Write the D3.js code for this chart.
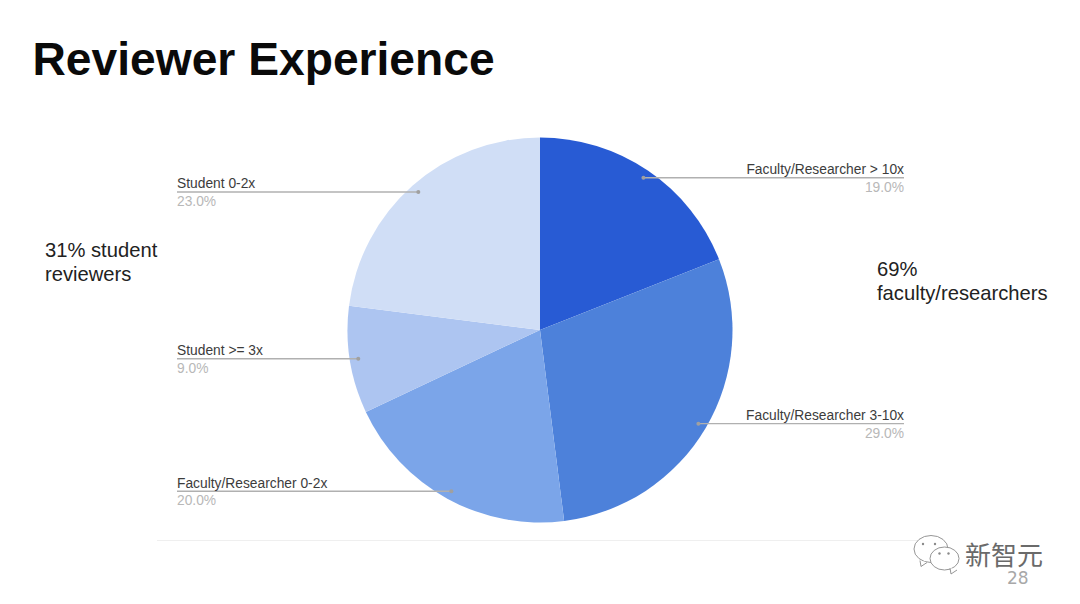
<!DOCTYPE html>
<html>
<head>
<meta charset="utf-8">
<style>
  html, body { margin: 0; padding: 0; background: #fff; }
  svg { display: block; font-family: "Liberation Sans", Arial, sans-serif; }
</style>
<script src="https://cdn.jsdelivr.net/npm/d3@7"></script>
</head>
<body>
<div id="chart"></div>
<script>
// Dados da fatia, no sentido horário a partir do topo
const categories = ['Faculty/Researcher > 10x', 'Faculty/Researcher 3-10x', 'Faculty/Researcher 0-2x', 'Student >= 3x', 'Student 0-2x'];
const values = [19, 29, 20, 9, 23];
const colors = ['#285bd4', '#4d81da', '#7ba5e9', '#adc5f1', '#d0def6'];

const width = 1080;
const height = 604;
const cx = 540;
const cy = 330;
const radius = 192.5;
const dotRadius = 184;
const leftEdge = 177;
const rightEdge = 904;

const svg = d3.select('#chart').append('svg')
  .attr('width', width)
  .attr('height', height);

// Título
svg.append('text')
  .attr('x', 32.5)
  .attr('y', 75)
  .attr('font-size', 46.2)
  .attr('font-weight', 700)
  .attr('fill', '#0a0a0a')
  .text('Reviewer Experience');

// Pizza
const slices = d3.pie().sort(null)(values);
const arc = d3.arc().innerRadius(0).outerRadius(radius);
const dotArc = d3.arc().innerRadius(dotRadius).outerRadius(dotRadius);

const pie = svg.append('g').attr('transform', `translate(${cx},${cy})`);

pie.selectAll('path')
  .data(slices)
  .enter()
  .append('path')
  .attr('d', arc)
  .attr('fill', (d, i) => colors[i]);

// Linhas de chamada e rótulos
const labels = pie.selectAll('.label')
  .data(slices)
  .enter()
  .append('g')
  .attr('class', 'label');

labels.each(function(d, i) {
  const g = d3.select(this);
  const [px, py] = dotArc.centroid(d);
  const isRight = px > 0;
  const edge = (isRight ? rightEdge : leftEdge) - cx;

  g.append('line')
    .attr('x1', px).attr('y1', py)
    .attr('x2', edge).attr('y2', py)
    .attr('stroke', '#b0b0b0')
    .attr('stroke-width', 1.4);

  g.append('circle')
    .attr('cx', px).attr('cy', py)
    .attr('r', 2)
    .attr('fill', '#a0a0a0');

  g.append('text')
    .attr('x', edge).attr('y', py - 3.7)
    .attr('text-anchor', isRight ? 'end' : 'start')
    .attr('font-size', 13.8)
    .attr('fill', '#3c3c3c')
    .text(categories[i]);

  g.append('text')
    .attr('x', edge).attr('y', py + 14)
    .attr('text-anchor', isRight ? 'end' : 'start')
    .attr('font-size', 13.8)
    .attr('fill', '#b8b8b8')
    .text(d3.format('.1f')(values[i]) + '%');
});

// Anotações laterais
const notes = [
  { x: 45, y: 257, lines: ['31% student', 'reviewers'] },
  { x: 877, y: 276, lines: ['69%', 'faculty/researchers'] }
];

notes.forEach(n => {
  n.lines.forEach((t, i) => {
    svg.append('text')
      .attr('x', n.x)
      .attr('y', n.y + i * 24)
      .attr('font-size', 20.2)
      .attr('fill', '#222')
      .text(t);
  });
});

// Linha do rodapé
svg.append('line')
  .attr('x1', 157).attr('y1', 540.5)
  .attr('x2', 925).attr('y2', 540.5)
  .attr('stroke', '#efefef')
  .attr('stroke-width', 1);

// Número do slide
svg.append('text')
  .attr('x', 1007)
  .attr('y', 584)
  .attr('font-size', 17)
  .attr('font-family', '"DejaVu Sans", sans-serif')
  .attr('fill', '#a8a8a8')
  .text('28');

// Marca d'água: balões e nome
const bubble = (x, y, rx, ry, tailX, dots) => {
  const g = svg.append('g').attr('fill', '#fff').attr('stroke', '#8a8a8a').attr('stroke-width', 0.9);
  g.append('ellipse').attr('cx', x).attr('cy', y).attr('rx', rx).attr('ry', ry);
  g.append('path')
    .attr('d', `M${tailX},${y + ry - 2} l1,6 l6,-4`)
    .attr('stroke-linejoin', 'round');
  dots.forEach(dx => {
    svg.append('circle').attr('cx', x + dx).attr('cy', y - 5).attr('r', 1.2).attr('fill', '#8a8a8a');
  });
};
bubble(931, 549, 17, 13.5, 920, [-8, 4]);
bubble(944.5, 558.5, 14.5, 11.5, 950, [-5, 4]);

svg.append('text')
  .attr('x', 965)
  .attr('y', 565)
  .attr('font-size', 26)
  .attr('font-family', '"Noto Sans CJK SC", sans-serif')
  .attr('fill', '#6a6a6a')
  .text('新智元');
</script>
</body>
</html>
